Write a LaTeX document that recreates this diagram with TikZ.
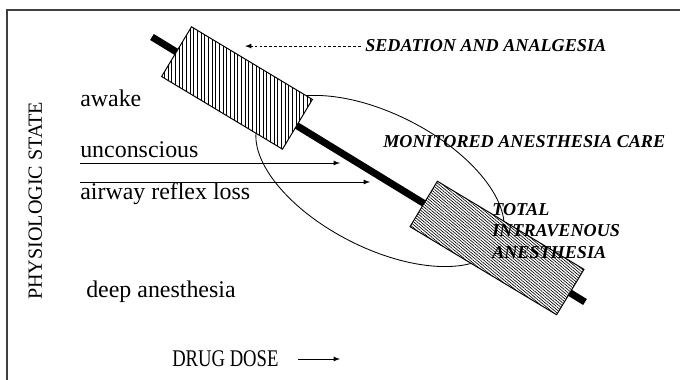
\documentclass[tikz,border=0pt]{standalone}
\usepackage{fontspec}
\setmainfont{Liberation Serif}
\usetikzlibrary{positioning,shapes.geometric,patterns.meta,arrows}

\begin{document}
\begin{tikzpicture}[
    x=0.025cm, y=-0.025cm,
    state/.style={
      anchor=base west,
      inner sep=0pt,
      font=\fontsize{17}{20}\selectfont
    },
    axislbl/.style={
      anchor=base west,
      inner sep=0pt,
      font=\fontsize{14.3}{17}\selectfont
    },
    capt/.style={
      anchor=base west,
      inner sep=0pt,
      font=\fontsize{12.9}{15.2}\selectfont\bfseries\itshape
    },
    boxv/.style={
      draw,
      line width=0.7pt,
      rotate=-31,
      inner sep=0pt,
      minimum width=3.525cm,
      minimum height=1.45cm,
      preaction={fill=white},
      pattern={Lines[angle=90,distance=2.6pt,line width=0.6pt]}
    },
    boxd/.style={
      draw,
      line width=0.7pt,
      rotate=-31,
      inner sep=0pt,
      minimum width=4.275cm,
      minimum height=1.325cm,
      preaction={fill=white},
      pattern={Lines[angle=-40,distance=1.6pt,line width=0.45pt]}
    },
    mac/.style={
      draw,
      ellipse,
      line width=0.6pt,
      rotate=-27,
      inner sep=0pt,
      minimum width=6.75cm,
      minimum height=3.35cm
    },
    ptr/.style={-latex, line width=0.6pt},
    dashptr/.style={-latex, line width=0.6pt, dash pattern=on 2pt off 1.5pt}
    ]
    \useasboundingbox (0,0) rectangle (680,380);
    % frame
    \draw[black!75, line width=1pt] (7,380) -- (7,10) -- (680,10);

    % dose bar with the two ranges
    \coordinate (b0) at (152,37);
    \coordinate (b1) at (585,302);
    \node[mac] (care) at (380,181) {};
    \draw[line width=5pt] (b0) -- (b1);
    \node[boxv] (sed) at (237,88) {};
    \node[boxd] (tiva) at (497,248) {};

    \node[capt] (sedl) at (365,52) {SEDATION AND ANALGESIA};
    \coordinate (sedtip) at (245,0);
    \draw[dashptr] ([xshift=-3pt]sedl.west) -- (sedl.west -| sedtip);
    \node[capt] (carel) at (383,148) {MONITORED ANESTHESIA CARE};
    \node[capt, align=left, anchor=north west] (tival) at (492,203)
      {TOTAL\\INTRAVENOUS\\ANESTHESIA};

    % states
    \node[state] (awake) at (80,107) {awake};
    \node[state] (uncon) at (80,158) {unconscious};
    \node[state] (airway) at (80,200) {airway reflex loss};
    \node[state] (deep) at (86,298) {deep anesthesia};
    \coordinate (uncontip) at (340,163);
    \coordinate (airtip) at (370,182);
    \draw[ptr] (uncon.west |- uncontip) -- (uncontip);
    \draw[ptr] (airway.west |- airtip) -- (airtip);

    % axes
    \node[axislbl, rotate=90] (phys) at (42,300) {PHYSIOLOGIC STATE};
    \node[axislbl, font=\fontsize{17}{20}\selectfont] (dose) at (172,367)
      {\scalebox{0.78}[1]{DRUG DOSE}};
    \coordinate (dosetip) at (340,359);
    \draw[ptr] ([xshift=14pt]dose.east |- dosetip) -- (dosetip);
\end{tikzpicture}
\end{document}
